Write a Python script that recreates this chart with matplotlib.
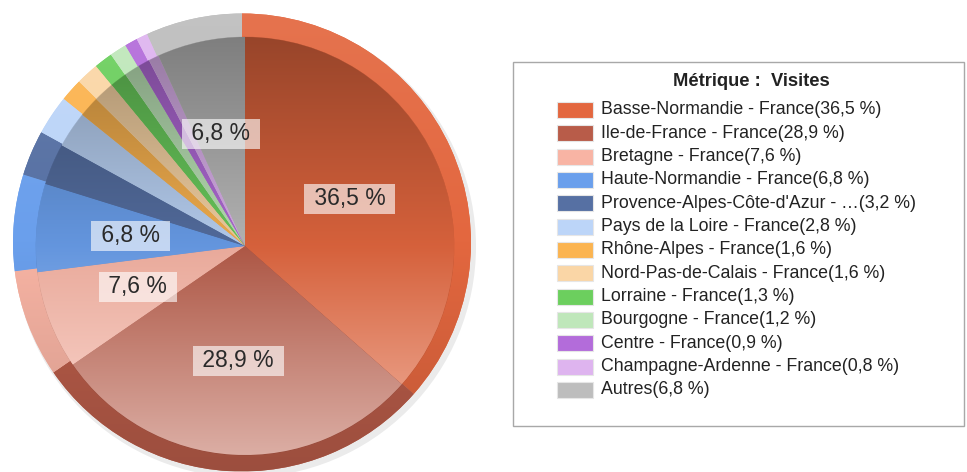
import numpy as np
import matplotlib
matplotlib.use('Agg')
import matplotlib.pyplot as plt
from matplotlib.colors import to_rgb
from matplotlib.patches import Rectangle, Circle

plt.rcParams['font.family'] = ['Liberation Sans', 'DejaVu Sans']

regions = ['Basse-Normandie - France', 'Ile-de-France - France', 'Bretagne - France',
           'Haute-Normandie - France', "Provence-Alpes-Côte-d'Azur - …", 'Pays de la Loire - France',
           'Rhône-Alpes - France', 'Nord-Pas-de-Calais - France', 'Lorraine - France',
           'Bourgogne - France', 'Centre - France', 'Champagne-Ardenne - France', 'Autres']
visits_pct = [36.5, 28.9, 7.6, 6.8, 3.2, 2.8, 1.6, 1.6, 1.3, 1.2, 0.9, 0.8, 6.8]
colors = ['#E3673F', '#B85C49', '#F8B4A4', '#6A9FEC', '#5670A3', '#BCD5F8', '#FBB450',
          '#FAD6A6', '#6CCF5E', '#BFE7BA', '#B36CDA', '#DEB4EF', '#BDBDBD']
title = 'Métrique :  Visites'


def fr(v):
    return f'{v:.1f} %'.replace('.', ',')


def mix(c, w, a):
    c = np.array(to_rgb(c))
    return c * (1 - a) + np.array(to_rgb(w)) * a


def gradient(stops, n=256):
    # stops: list of (t, rgb) with t from 0 (top) to 1 (bottom)
    ts = np.linspace(0, 1, n)
    out = np.zeros((n, 1, 3))
    for k in range(3):
        out[:, 0, k] = np.interp(ts, [s[0] for s in stops], [s[1][k] for s in stops])
    return np.clip(out, 0, 1)


def shade(ax, wedges, cx, cy, r, stops_fn, z):
    for w, c in zip(wedges, colors):
        img = gradient(stops_fn(c))
        im = ax.imshow(img, extent=(cx - r, cx + r, cy - r, cy + r), aspect='auto',
                       interpolation='bilinear', zorder=z, origin='upper')
        im.set_clip_path(w)


fig = plt.figure(figsize=(9.67, 4.72), dpi=100)
ax = fig.add_axes([0, 0, 1, 1])
W, H = 967, 472

# outer (bevel) pie
ocx, ocy, orad = 242, H - 242.5, 229
ax.add_patch(Circle((ocx + 3, ocy - 4), orad + 2, color='#000000', alpha=0.08, zorder=0.5, lw=0))
outer, _ = ax.pie(visits_pct, colors=colors, startangle=90, counterclock=False,
                  radius=orad, center=(ocx, ocy), wedgeprops=dict(linewidth=0, zorder=1))
shade(ax, outer, ocx, ocy, orad,
      lambda c: [(0, mix(c, 'white', 0.08)), (0.5, mix(c, 'white', 0.0)), (1, mix(c, 'black', 0.15))], 1.1)

# inner pie with gradient
icx, icy, irad = 245, H - 246, 209
inner, _, pct = ax.pie(visits_pct, colors=colors, startangle=90, counterclock=False,
                       radius=irad, center=(icx, icy), pctdistance=0.55,
                       autopct=lambda p: ' ' + fr(p) + ' ' if p >= 5 else '',
                       wedgeprops=dict(linewidth=0.4, edgecolor=(0, 0, 0, 0.15), zorder=2))
shade(ax, inner, icx, icy, irad,
      lambda c: [(0, mix(c, 'black', 0.33)), (0.5, mix(c, 'black', 0.06)), (1, mix(c, 'white', 0.5))], 2.1)
for t in pct:
    t.set_fontsize(16.5)
    t.set_color('#2a2a2a')
    t.set_zorder(3)
    t.set_bbox(dict(facecolor='white', alpha=0.62, edgecolor='none', pad=2.5))

# legend box
bx0, by0, bx1, by1 = 513, 62, 964, 426
ax.add_patch(Rectangle((bx0, H - by1), bx1 - bx0, by1 - by0, facecolor='white',
                       edgecolor='#a8a8a8', linewidth=1, zorder=3))
ax.text(751, H - 81, title, ha='center', va='center', fontsize=13.2,
        fontweight='bold', color='#222222', zorder=4)
for i, (name, v, c) in enumerate(zip(regions, visits_pct, colors)):
    y = H - (110 + i * 23.33)
    ax.add_patch(Rectangle((557, y - 8), 36, 16, facecolor=c, edgecolor='#e6e6e6',
                           linewidth=0.8, zorder=4))
    ax.text(601, y, f'{name}({fr(v)})', ha='left', va='center', fontsize=12.8,
            color='#222222', zorder=4)

ax.set_xlim(0, W)
ax.set_ylim(0, H)
ax.set_aspect('auto')
ax.axis('off')
fig.savefig('out.png', dpi=100)
